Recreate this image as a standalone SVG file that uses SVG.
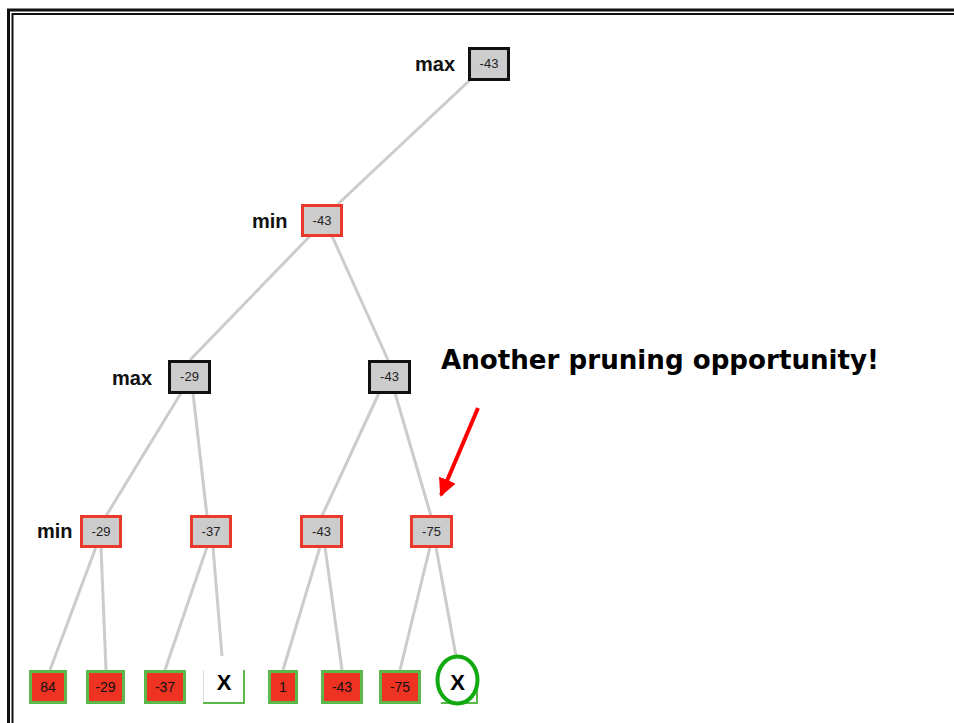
<svg xmlns="http://www.w3.org/2000/svg" width="954" height="723" viewBox="0 0 954 723">
<style>
.edge{stroke:#cccccc;stroke-width:3;fill:none;stroke-linecap:butt}
.maxn{fill:#cccccc;stroke:#111111;stroke-width:3}
.minn{fill:#cccccc;stroke:#e8392a;stroke-width:3}
.leaf{fill:#ee3322;stroke:#5cb84b;stroke-width:3}
.val{font-family:"Liberation Sans",Arial,sans-serif;font-size:13px;fill:#222222;text-anchor:middle}
.lval{font-family:"Liberation Sans",Arial,sans-serif;font-size:14px;fill:#111111;text-anchor:middle}
.lvl{font-family:"Liberation Sans",Arial,sans-serif;font-size:20px;font-weight:bold;fill:#111111}
.xm{font-family:"Liberation Sans",Arial,sans-serif;font-size:22px;font-weight:bold;fill:#000000;text-anchor:middle}
</style>
<defs>
<marker id="ah" viewBox="0 0 10 10" refX="9" refY="5" markerWidth="4.5" markerHeight="4.5" orient="auto" markerUnits="strokeWidth">
<path d="M0,0 L10,5 L0,10 z" fill="#ff0000"/>
</marker>
</defs>
<rect width="954" height="723" fill="#ffffff"/>
<g id="frame" fill="none">
<rect x="8.5" y="10" width="1000" height="1000" stroke="#111111" stroke-width="3"/>
<rect x="12.5" y="14" width="1000" height="1000" stroke="#111111" stroke-width="2"/>
</g>
<g id="connectors">
<line class="edge" x1="470" y1="80" x2="338" y2="204"/>
<line class="edge" x1="310" y1="236" x2="190" y2="360"/>
<line class="edge" x1="332" y1="236" x2="388" y2="360"/>
<line class="edge" x1="181" y1="393" x2="106" y2="516"/>
<line class="edge" x1="193" y1="393" x2="207" y2="516"/>
<line class="edge" x1="379" y1="393" x2="322" y2="516"/>
<line class="edge" x1="395" y1="393" x2="431" y2="516"/>
<line class="edge" x1="96" y1="547" x2="50" y2="670"/>
<line class="edge" x1="101" y1="547" x2="106" y2="670"/>
<line class="edge" x1="207" y1="547" x2="165" y2="670"/>
<line class="edge" x1="213" y1="547" x2="222" y2="656"/>
<line class="edge" x1="320" y1="547" x2="283" y2="670"/>
<line class="edge" x1="325" y1="547" x2="342" y2="670"/>
<line class="edge" x1="430" y1="547" x2="400" y2="670"/>
<line class="edge" x1="436" y1="547" x2="456" y2="656"/>
</g>
<g id="labels">
<text class="lvl" x="415" y="71">max</text>
<text class="lvl" x="252" y="228">min</text>
<text class="lvl" x="112" y="385">max</text>
<text class="lvl" x="37" y="538">min</text>
</g>
<g id="root"><rect class="maxn" x="469.5" y="48.5" width="39" height="31"/><text class="val" x="489" y="68">-43</text></g>
<g id="n1"><rect class="minn" x="302.5" y="205.5" width="39" height="30"/><text class="val" x="322" y="225">-43</text></g>
<g id="n2"><rect class="maxn" x="169.5" y="361.5" width="40" height="31"/><text class="val" x="189.5" y="381">-29</text></g>
<g id="n3"><rect class="maxn" x="369.5" y="361.5" width="40" height="31"/><text class="val" x="389.5" y="381">-43</text></g>
<g id="n4"><rect class="minn" x="81.5" y="516.5" width="39" height="30"/><text class="val" x="101" y="536">-29</text></g>
<g id="n5"><rect class="minn" x="191.5" y="516.5" width="39" height="30"/><text class="val" x="211" y="536">-37</text></g>
<g id="n6"><rect class="minn" x="301.5" y="516.5" width="40" height="30"/><text class="val" x="321.5" y="536">-43</text></g>
<g id="n7"><rect class="minn" x="411.5" y="516.5" width="40" height="30"/><text class="val" x="431.5" y="536">-75</text></g>
<g id="l1"><rect class="leaf" x="30.5" y="671.5" width="35" height="31"/><text class="lval" x="48" y="692">84</text></g>
<g id="l2"><rect class="leaf" x="87.5" y="671.5" width="36" height="31"/><text class="lval" x="105.5" y="692">-29</text></g>
<g id="l3"><rect class="leaf" x="145.5" y="671.5" width="39" height="31"/><text class="lval" x="165" y="692">-37</text></g>
<g id="l4">
<rect x="203" y="670" width="42" height="34" fill="#ffffff"/>
<line x1="203.5" y1="670" x2="203.5" y2="704" stroke="#dddddd" stroke-width="1"/>
<line x1="244" y1="670" x2="244" y2="704" stroke="#5cb84b" stroke-width="2"/>
<line x1="203" y1="703" x2="245" y2="703" stroke="#5cb84b" stroke-width="2"/>
<text class="xm" x="224" y="690">X</text>
</g>
<g id="l5"><rect class="leaf" x="269.5" y="671.5" width="27" height="31"/><text class="lval" x="283" y="692">1</text></g>
<g id="l6"><rect class="leaf" x="322.5" y="671.5" width="39" height="31"/><text class="lval" x="342" y="692">-43</text></g>
<g id="l7"><rect class="leaf" x="380.5" y="671.5" width="39" height="31"/><text class="lval" x="400" y="692">-75</text></g>
<g id="l8">
<line x1="477" y1="690" x2="477" y2="704" stroke="#5cb84b" stroke-width="2"/>
<line x1="441" y1="703" x2="478" y2="703" stroke="#5cb84b" stroke-width="2"/>
<ellipse cx="457.5" cy="680" rx="20" ry="23.5" fill="#ffffff" stroke="#11aa11" stroke-width="4"/>
<text class="xm" x="457.5" y="690">X</text>
</g>
<g id="annotation">
<text x="441" y="369" font-family="'DejaVu Sans',sans-serif" font-size="27" font-weight="bold" fill="#000000" textLength="438" lengthAdjust="spacingAndGlyphs">Another pruning opportunity!</text>
<line x1="478" y1="408" x2="441" y2="495" stroke="#ff0000" stroke-width="4" marker-end="url(#ah)"/>
</g>
</svg>
